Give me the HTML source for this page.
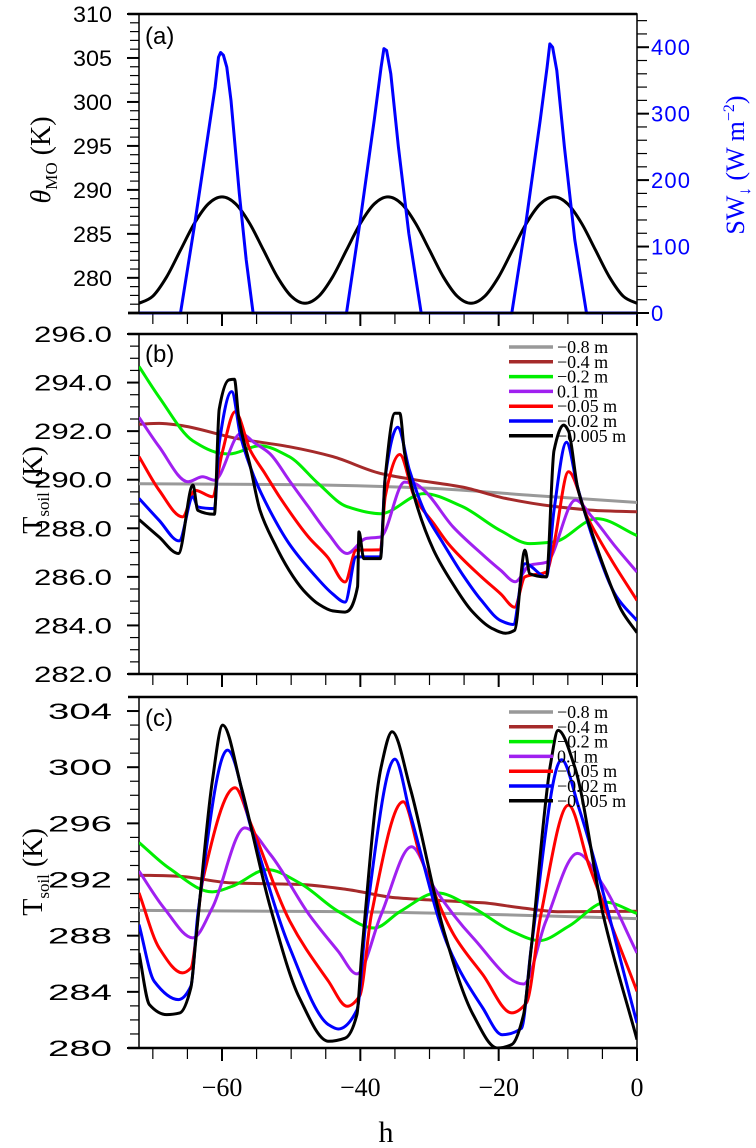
<!DOCTYPE html>
<html><head><meta charset="utf-8"><style>
html,body{margin:0;padding:0;background:#fff}
svg{display:block}
text{font-family:"Liberation Sans",sans-serif}
.ser{font-family:"Liberation Serif",serif}
</style></head><body>
<svg id="chart" width="756" height="1148" viewBox="0 0 756 1148" xmlns="http://www.w3.org/2000/svg"></svg>
<script>
// ---------- DATA ----------
const xTicks = [-60, -40, -20, 0];
const thetaH = [-72,-70,-68,-66,-64,-62,-60,-58,-56,-54,-52,-50,-48,-46,-44,-42,-40,-38,-36,-34,-32,-30,-28,-26,-24,-22,-20,-18,-16,-14,-12,-10,-8,-6,-4,-2,0];
const thetaV = [277.1,277.91,280.12,283.15,286.18,288.39,289.2,288.39,286.18,283.15,280.12,277.91,277.1,277.91,280.12,283.15,286.18,288.39,289.2,288.39,286.18,283.15,280.12,277.91,277.1,277.91,280.12,283.15,286.18,288.39,289.2,288.39,286.18,283.15,280.12,277.91,277.1];
const swH = [-72,-66,-64,-62,-61,-60.5,-60.2,-59.8,-59.3,-58.7,-57.5,-56.5,-55.5,-42,-40,-38,-37,-36.6,-36.2,-35.6,-34.5,-33,-31.2,-18.1,-16,-14,-13,-12.6,-12.2,-11.6,-10.5,-9,-7.3,0];
const swV = [0,0,130,270,340,385,392,388,370,320,180,80,0,0,140,290,370,398,395,360,250,120,0,0,140,290,370,405,400,365,250,110,0,0];
const aLeftTicks = [280,285,290,295,300,305,310];
const aRightTicks = [0,100,200,300,400];
const bTicks = ["282.0","284.0","286.0","288.0","290.0","292.0","294.0","296.0"];
const cTicks = [280,284,288,292,296,300,304];
const legendLabels = ["\u22120.8  m","\u22120.4  m","\u22120.2  m","  0.1  m","\u22120.05  m","\u22120.02  m","\u22120.005  m"];
const colors = ["#999999","#a52a2a","#00ee00","#a020f0","#ff0000","#0000ff","#000000"];

// panel b
const b08H=[-72,-50,-30,-15,0]; const b08V=[289.83,289.8,289.65,289.35,289.06];
const b04H=[-72,-69.1,-66.3,-57.9,-50.3,-44.0,-37.1,-32.2,-25.3,-19.0,-12.0,-5.1,0]; const b04V=[292.28,292.32,292.25,291.7,291.36,290.95,290.26,290.0,289.7,289.23,288.9,288.72,288.68];
const b02H=[-72,-69.1,-64.2,-60.0,-59.0,-54.5,-50.3,-46.1,-42.0,-37.1,-30.8,-25.3,-19.7,-15.5,-12.0,-5.8,0]; const b02V=[294.66,293.4,291.6,291.08,291.06,291.4,290.95,289.85,288.9,288.6,289.43,288.9,287.9,287.37,287.44,288.4,287.7];
const b01H=[-72,-69.1,-64.9,-62.8,-61.1,-57.3,-55.2,-53.1,-50.3,-47.5,-44.7,-41.9,-39.2,-37.1,-33.6,-32.2,-30.8,-26.6,-22.5,-19.7,-17.6,-15.5,-13.1,-8.9,-6.5,-3.0,0]; const b01V=[292.57,291.36,289.92,290.12,289.98,291.9,291.5,291.08,289.98,288.88,287.8,286.96,287.58,287.64,289.9,289.85,289.57,288.06,286.96,286.27,285.8,286.48,286.6,289.16,288.47,287.2,286.2];
const b005H=[-72,-69.1,-65.7,-63.9,-61.4,-60.0,-58.1,-55.9,-53.8,-51.7,-47.5,-44.7,-42.2,-40.6,-37.1,-36.4,-34.3,-32.2,-29.4,-27.3,-22.5,-19.7,-17.7,-16.2,-13.1,-12.0,-9.9,-7.2,-3.7,0]; const b005V=[290.95,289.57,288.47,289.57,289.3,291.08,292.8,291.2,290.26,289.3,287.64,286.8,285.79,287.1,287.12,289.3,291.04,289.3,288.2,287.37,286.0,285.3,284.75,286.0,286.2,287.37,290.33,288.47,286.7,285.03];
const b002H=[-72,-69.1,-66.2,-64.2,-63.5,-61.1,-60.4,-58.6,-57.3,-55.2,-53.1,-50.3,-46.8,-44.0,-42.2,-40.6,-37.1,-36.4,-34.6,-32.9,-30.8,-28.0,-25.3,-22.5,-19.7,-17.9,-16.2,-13.1,-12.0,-10.2,-8.6,-5.8,-3.0,0]; const b002V=[289.23,288.33,287.48,289.3,288.88,288.81,291.5,293.63,291.77,290.0,288.74,287.37,286.13,285.3,284.96,286.82,286.82,290.1,292.16,290.4,288.74,287.37,286.13,285.03,284.2,284.04,286.54,286.0,288.74,291.54,289.7,287.1,285.2,284.2];
const b0005H=[-72,-69.1,-66.3,-64.2,-63.5,-61.1,-60.4,-59.0,-58.2,-57.6,-55.9,-54.5,-52.4,-50.3,-48.2,-46.1,-44.0,-42.2,-40.4,-40.2,-39.5,-37.1,-36.4,-35.0,-34.3,-33.6,-32.2,-29.4,-26.6,-23.9,-21.1,-19.0,-17.7,-16.2,-15.5,-13.1,-12.0,-10.6,-9.9,-8.6,-6.5,-4.4,-2.2,0]; const b0005V=[288.36,287.64,286.96,289.78,288.74,288.58,292.9,294.11,294.14,292.6,290.53,288.74,287.37,286.27,285.44,284.89,284.6,284.55,285.6,287.85,286.75,286.75,290.1,292.74,292.74,291.1,289.3,287.1,285.7,284.6,283.9,283.68,283.8,287.1,286.13,286.0,291.2,292.25,292.0,289.7,287.8,286.1,284.6,283.7];

// panel c
const c08H=[-72,-40,-20,0]; const c08V=[289.8,289.7,289.5,289.22];
const c04H=[-72,-66.3,-58.6,-48.8,-41.9,-34.9,-29.3,-22.3,-16.7,-11.1,0]; const c04V=[292.31,292.24,291.76,291.65,291.29,290.7,290.53,290.34,289.98,289.7,289.74];
const c02H=[-72,-67.7,-61.4,-58.6,-53.4,-48.8,-43.2,-38.0,-34.2,-28.9,-23.7,-18.1,-14.1,-9.8,-4.5,0]; const c02V=[294.64,292.83,291.12,291.5,292.71,291.76,289.74,288.55,289.74,291.05,289.98,288.32,287.65,288.7,290.38,289.58];
const c01H=[-72,-68.4,-64.2,-61.4,-56.7,-53.0,-47.4,-43.2,-40.5,-37.0,-32.6,-29.3,-23.7,-16.4,-13.2,-8.6,-4.9,0]; const c01V=[292.6,289.98,287.84,289.98,295.68,293.78,289.5,286.89,285.28,289.5,294.33,291.4,287.84,284.56,289.0,293.86,291.6,286.77];
const c005H=[-72,-69.1,-65.7,-64.5,-62.8,-58.1,-55.8,-50.2,-44.6,-41.9,-40.1,-38.4,-33.8,-31.4,-26.5,-22.3,-18.1,-16.0,-13.9,-9.9,-7.0,0]; const c005V=[291.05,287.13,285.35,285.7,291.9,298.54,295.92,289.03,284.75,282.97,283.7,289.5,297.54,293.8,288.08,285.23,282.5,283.2,289.5,297.3,293.1,284.04];
const c002H=[-72,-69.8,-66.3,-64.5,-63.5,-59.2,-55.8,-50.2,-44.6,-43.2,-40.5,-39.1,-35.0,-32.8,-27.2,-22.3,-19.5,-16.7,-15.3,-10.9,-8.4,0]; const c002V=[288.79,284.75,283.45,284.4,289.5,301.22,295.68,287.13,281.66,281.35,282.7,289.5,300.58,296.7,287.13,282.85,280.95,281.4,287.13,300.53,297.1,281.78];
const c0005H=[-72,-70.5,-68.0,-66.1,-64.5,-63.8,-61.4,-59.9,-57.2,-53.0,-48.8,-44.6,-42.2,-40.5,-39.8,-37.0,-35.4,-32.8,-27.9,-23.7,-20.2,-18.1,-16.4,-15.3,-12.5,-11.4,-9.0,-4.9,0]; const c0005V=[286.77,283.09,282.38,282.5,284.3,287.6,299.0,303.0,298.54,290.0,283.56,280.48,280.7,282.38,286.7,300.0,302.53,298.54,288.3,282.38,280.0,280.25,282.38,287.1,300.2,302.62,300.0,289.5,280.6];

const bSeries=[[b08H,b08V],[b04H,b04V],[b02H,b02V],[b01H,b01V],[b005H,b005V],[b002H,b002V],[b0005H,b0005V]];
const cSeries=[[c08H,c08V],[c04H,c04V],[c02H,c02V],[c01H,c01V],[c005H,c005V],[c002H,c002V],[c0005H,c0005V]];

// ---------- LAYOUT ----------
const NS="http://www.w3.org/2000/svg";
const svg=document.getElementById('chart');
const X0=139, X1=637;
const xs=h=>X0+(h+72)/72*(X1-X0);
function mk(tag,attrs,parent){const e=document.createElementNS(NS,tag);for(const k in attrs)e.setAttribute(k,attrs[k]);(parent||svg).appendChild(e);return e;}
function lin(d0,d1,r0,r1){return v=>r0+(v-d0)/(d1-d0)*(r1-r0);}
function linePath(H,V,ys){return H.map((h,i)=>(i?'L':'M')+xs(h).toFixed(1)+','+ys(V[i]).toFixed(1)).join('');}
function crPath(H,V,ys){
  const P=H.map((h,i)=>[xs(h),ys(V[i])]);let d='M'+P[0][0].toFixed(1)+','+P[0][1].toFixed(1);
  for(let i=0;i<P.length-1;i++){const p0=P[Math.max(0,i-1)],p1=P[i],p2=P[i+1],p3=P[Math.min(P.length-1,i+2)];
    const c1=[p1[0]+(p2[0]-p0[0])/6,p1[1]+(p2[1]-p0[1])/6],c2=[p2[0]-(p3[0]-p1[0])/6,p2[1]-(p3[1]-p1[1])/6];
    d+='C'+c1.map(v=>v.toFixed(1)).join(',')+' '+c2.map(v=>v.toFixed(1)).join(',')+' '+p2[0].toFixed(1)+','+p2[1].toFixed(1);}
  return d;}
// monotone cubic (Fritsch-Carlson)
function smoothPath(H,V,ys){
  const X=H.map(xs),Y=V.map(ys),n=X.length;
  const d=[],m=[];
  for(let i=0;i<n-1;i++)d.push((Y[i+1]-Y[i])/(X[i+1]-X[i]));
  m[0]=d[0];m[n-1]=d[n-2];
  for(let i=1;i<n-1;i++){if(d[i-1]*d[i]<=0)m[i]=0;else{const w1=2*(X[i+1]-X[i])+(X[i]-X[i-1]),w2=(X[i+1]-X[i])+2*(X[i]-X[i-1]);m[i]=(w1+w2)/(w1/d[i-1]+w2/d[i]);}}
  let p='M'+X[0].toFixed(1)+','+Y[0].toFixed(1);
  for(let i=0;i<n-1;i++){const h=(X[i+1]-X[i])/3;
    p+='C'+(X[i]+h).toFixed(1)+','+(Y[i]+m[i]*h).toFixed(1)+' '+(X[i+1]-h).toFixed(1)+','+(Y[i+1]-m[i+1]*h).toFixed(1)+' '+X[i+1].toFixed(1)+','+Y[i+1].toFixed(1);}
  return p;}
function xAxisTicks(g,yb){
  for(let h=-70;h<=0;h+=5){const major=h%20===0;
    const t=mk('line',{x1:xs(h),x2:xs(h),y1:yb,y2:yb+(major?13:11),stroke:'#000','stroke-width':major?2:1.2},g);
    }
}
function frame(g,y0,y1,name){
  const r=mk('rect',{x:X0,y:y0,width:X1-X0,height:y1-y0,fill:'none',stroke:'#000','stroke-width':1.5},g);
  
  mk('line',{x1:128,x2:X1,y1:y1,y2:y1,stroke:'#000','stroke-width':2.5},g);
  mk('line',{x1:128,x2:X1,y1:y0,y2:y0,stroke:'#000','stroke-width':2.5},g);
}
function leftTicks(g,ys,lo,hi,minor,major){
  for(let v=lo;v<=hi+1e-6;v+=minor){const isMaj=Math.abs(v/major-Math.round(v/major))<1e-6;
    mk('line',{x1:X0-(isMaj?12:9),x2:X0,y1:ys(v),y2:ys(v),stroke:'#000','stroke-width':isMaj?2:1.2},g);}
}
function panelLabel(g,txt,y){const t=mk('text',{x:145,y:y,'font-size':24},g);t.textContent=txt;
  }

// ---------- PANEL A ----------
const gA=mk('g',{});
const yaL=lin(276,310,313,14), yaR=lin(0,450,313,14);
frame(gA,14,313,'panel-a-frame');
leftTicks(gA,yaL,277,310,1,5);
aLeftTicks.forEach(v=>{const t=mk('text',{x:112,y:yaL(v)+8,'text-anchor':'end','font-size':22,textLength:39,lengthAdjust:'spacingAndGlyphs'},gA);t.textContent=v;
  });
for(let v=0;v<=440;v+=20){const maj=v%100===0;mk('line',{x1:X1,x2:X1+(maj?12:10),y1:yaR(v),y2:yaR(v),stroke:'#000','stroke-width':maj?2:1.2},gA);}
aRightTicks.forEach(v=>{const t=mk('text',{x:651,y:yaR(v)+8,'font-size':22,fill:'#0000ff'},gA);t.textContent=v;
  if(String(v).length===3)t.setAttribute('textLength',39);
  });
xAxisTicks(gA,313);
let p=mk('path',{d:crPath(thetaH,thetaV,yaL),fill:'none',stroke:'#000','stroke-width':3},gA);

p=mk('path',{d:linePath(swH,swV,yaR),fill:'none',stroke:'#0000ff','stroke-width':3,'stroke-linejoin':'round'},gA);

mk('line',{x1:128,x2:X1,y1:313,y2:313,stroke:'#000','stroke-width':2.5},gA);
panelLabel(gA,'(a)',44);
let tt=mk('text',{transform:'translate(50,160) rotate(-90)','text-anchor':'middle','font-size':28,class:'ser'},gA);
tt.innerHTML='<tspan font-style="italic">θ</tspan><tspan font-size="17" dy="7">MO</tspan><tspan dy="-7">  (K)</tspan>';

tt=mk('text',{transform:'translate(744,165) rotate(-90)','text-anchor':'middle','font-size':26,fill:'#0000ff',class:'ser'},gA);
tt.innerHTML='SW<tspan font-size="17" dy="6">↓</tspan><tspan dy="-6"> (W  m</tspan><tspan font-size="16" dy="-10">−2</tspan><tspan dy="10">)</tspan>';


// ---------- PANEL B / C ----------
function soilPanel(name,y0,y1,lo,hi,minor,major,tickVals,tickLen,series,legY,labelY,titleY){
  const g=mk('g',{});
  const ys=lin(lo,hi,y1,y0);
  frame(g,y0,y1,name+'-frame');
  leftTicks(g,ys,lo,hi,minor,major);
  tickVals.forEach(v=>{const t=mk('text',{x:112,y:ys(parseFloat(v))+8,'text-anchor':'end','font-size':22,textLength:tickLen,lengthAdjust:'spacingAndGlyphs'},g);t.textContent=v;
    });
  xAxisTicks(g,y1);
  const clip=mk('clipPath',{id:name+'-clip'},g);mk('rect',{x:X0,y:y0,width:X1-X0,height:y1-y0},clip);
  const sg=mk('g',{'clip-path':'url(#'+name+'-clip)'},g);
  series.forEach((s,i)=>{const e=mk('path',{d:smoothPath(s[0],s[1],ys),fill:'none',stroke:colors[i],'stroke-width':3,'stroke-linejoin':'round'},sg);
    });
  legendLabels.forEach((l,i)=>{const yy=legY+i*14.8;
    const t=mk('text',{x:557,y:yy+6,'font-size':18,class:'ser','xml:space':'preserve'},g);t.textContent=l;
    
    const ln=mk('line',{x1:509,x2:553,y1:yy,y2:yy,stroke:colors[i],'stroke-width':3.5},g);
    });
  panelLabel(g,'(' + name.slice(-1) + ')',labelY);
  const tt=mk('text',{transform:'translate(42,'+titleY+') rotate(-90)','text-anchor':'middle','font-size':28,class:'ser'},g);
  tt.innerHTML='T<tspan font-size="17" dy="7">soil</tspan><tspan dy="-7">  (K)</tspan>';
  
  return g;
}
soilPanel('panel-b',334,674,282,296,0.5,2,bTicks,78,bSeries,347,362,490);
soilPanel('panel-c',697,1048,280,305,1,4,cTicks.map(String),64,cSeries,712,726,872);

// x tick labels
xTicks.forEach(v=>{const t=mk('text',{x:xs(v),y:1096,'text-anchor':'middle','font-size':26,class:'ser'});
  t.textContent=v<0?'\u2212'+Math.abs(v):String(v);
  });
const xt=mk('text',{x:386,y:1142,'text-anchor':'middle','font-size':30,class:'ser'});xt.textContent='h';

</script>
</body></html>
